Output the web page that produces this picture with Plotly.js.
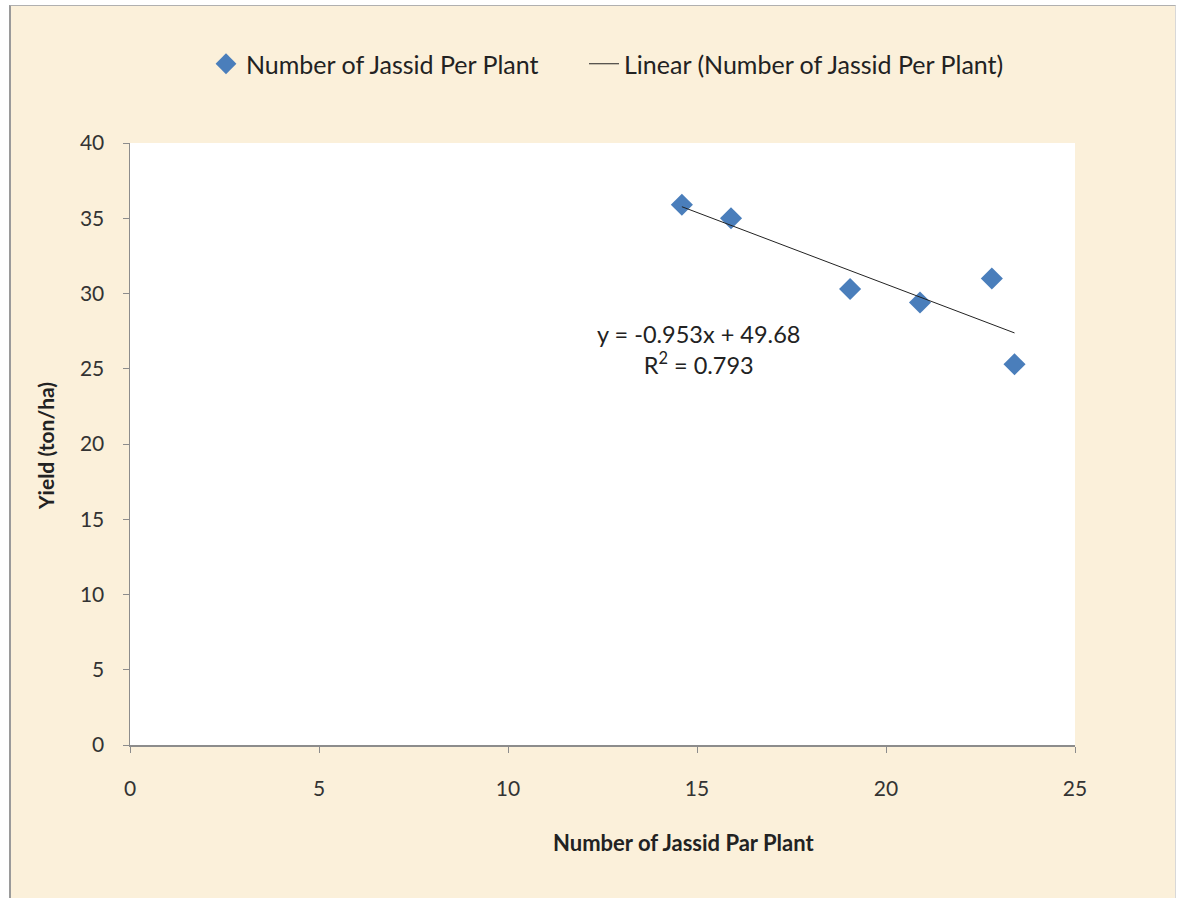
<!DOCTYPE html>
<html>
<head>
<meta charset="utf-8">
<script src="https://cdn.plot.ly/plotly-3.0.1.min.js"></script>
<style>
  html, body { margin:0; padding:0; background:#ffffff; width:1179px; height:898px; overflow:hidden; }
  #frame { position:absolute; left:9px; top:5px; width:1164px; height:893px; background:#fbf0da;
           border-left:2px solid #9a9a9a; border-top:1px solid #b0b0b0; border-right:1px solid #d8d8d8; }
  #chart { position:absolute; left:0; top:0; width:1179px; height:898px; }
</style>
</head>
<body>
<div id="frame"></div>
<div id="chart"></div>
<script>
// Data
const jassidPerPlant = [14.6, 15.9, 19.05, 20.9, 22.8, 23.4];
const yieldTonHa     = [35.9, 35.0, 30.3, 29.4, 31.0, 25.3];
// Trendline as displayed in the chart
const trendSlope = -0.953;
const trendIntercept = 49.68;
const trendR2 = 0.793;
const xTicks = [0, 5, 10, 15, 20, 25];
const yTicks = [0, 5, 10, 15, 20, 25, 30, 35, 40];

const xMin = Math.min(...jassidPerPlant), xMax = Math.max(...jassidPerPlant);
const trendX = [xMin, xMax];
const trendY = trendX.map(v => trendSlope * v + trendIntercept);

const font = "Lato, Open Sans, sans-serif";
const M = { l: 130, r: 104, t: 143, b: 153 };
const W = 1179, H = 898;
const pw = W - M.l - M.r, ph = H - M.t - M.b;
const px2x = p => (p - M.l) / pw;
const py2y = p => (H - M.b - p) / ph;

const traces = [
  {
    x: jassidPerPlant, y: yieldTonHa, mode: 'markers', type: 'scatter',
    name: 'Number of Jassid Per Plant', legend: 'legend',
    marker: { symbol: 'diamond', size: 17, color: '#4a7ebb', line: { width: 0 } }
  },
  {
    x: trendX, y: trendY, mode: 'lines', type: 'scatter',
    name: 'Linear (Number of Jassid Per Plant)', legend: 'legend2',
    line: { color: '#222222', width: 1 }
  }
];

const legendCommon = {
  orientation: 'h', xanchor: 'left', y: py2y(64), yanchor: 'middle',
  font: { family: font, size: 25, color: '#222222' },
  bgcolor: 'rgba(0,0,0,0)'
};

const layout = {
  width: W, height: H,
  margin: M,
  paper_bgcolor: 'rgba(0,0,0,0)',
  plot_bgcolor: '#ffffff',
  font: { family: font, size: 21, color: '#222222' },
  showlegend: true,
  legend: Object.assign({}, legendCommon, { x: px2x(206) }),
  legend2: Object.assign({}, legendCommon, { x: px2x(584) }),
  xaxis: {
    range: [0, 25], tickvals: xTicks, ticktext: xTicks.map(String),
    showgrid: false, zeroline: false, showline: true, linecolor: '#8c8c8c', linewidth: 1.5,
    ticks: 'outside', ticklen: 6, tickcolor: '#8c8c8c', ticklabelstandoff: 18,
    tickfont: { family: font, size: 21, color: '#333' }
  },
  yaxis: {
    range: [0, 40], tickvals: yTicks, ticktext: yTicks.map(String),
    showgrid: false, zeroline: false, showline: true, linecolor: '#8c8c8c', linewidth: 1.5,
    ticks: 'outside', ticklen: 6, tickcolor: '#8c8c8c', ticklabelstandoff: 14,
    tickfont: { family: font, size: 21, color: '#333' }
  },
  annotations: [
    {
      x: 15.03, y: 26.3, xref: 'x', yref: 'y', showarrow: false,
      xanchor: 'center', yanchor: 'middle',
      text: 'y = ' + trendSlope + 'x + ' + trendIntercept + '<br>R<sup>2</sup> = ' + trendR2,
      align: 'center', font: { family: font, size: 23.5, color: '#222' }
    },
    {
      x: px2x(683), y: py2y(842), xref: 'paper', yref: 'paper', showarrow: false,
      xanchor: 'center', yanchor: 'middle',
      text: '<b>Number of Jassid Par Plant</b>',
      font: { family: font, size: 22, color: '#222' }
    },
    {
      x: px2x(45), y: py2y(446), xref: 'paper', yref: 'paper', showarrow: false, textangle: -90,
      xanchor: 'center', yanchor: 'middle',
      text: '<b>Yield (ton/ha)</b>',
      font: { family: font, size: 21, color: '#222' }
    }
  ]
};

Plotly.newPlot('chart', traces, layout, { displayModeBar: false, staticPlot: true });
</script>
</body>
</html>
